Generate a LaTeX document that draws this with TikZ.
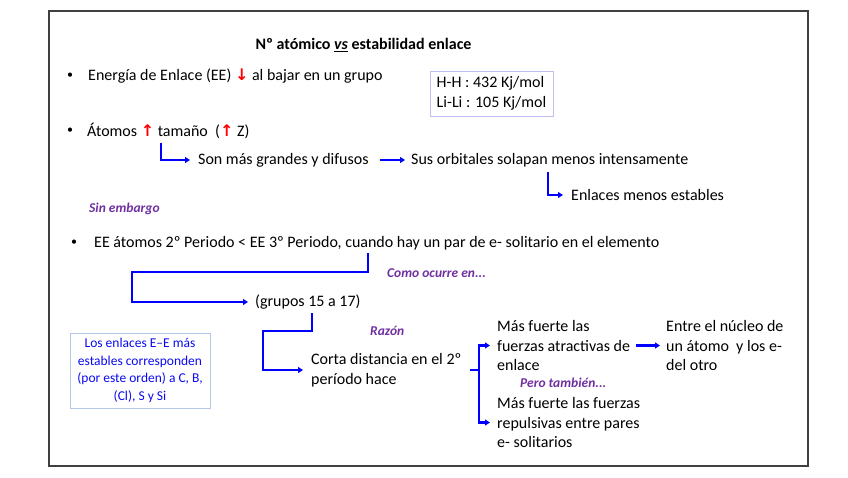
\documentclass[tikz,border=0pt]{standalone}
\usepackage{fontspec}
\setmainfont{Carlito}
\newfontfamily\symf{DejaVu Sans}
\usetikzlibrary{arrows.meta}
\definecolor{arrblue}{RGB}{0,0,255}
\definecolor{lblpurple}{RGB}{112,48,160}
\definecolor{boxblue}{RGB}{180,199,231}
\definecolor{lavbox}{RGB}{190,190,240}
\definecolor{framegray}{RGB}{64,64,64}
\definecolor{boxtext}{RGB}{10,10,240}
\newcommand{\redup}{{\color{red}\symf\bfseries ↑}}
\newcommand{\reddown}{{\color{red}\symf\bfseries ↓}}
\tikzset{
  txt/.style={inner sep=0pt, anchor=west, font=\fontsize{16}{19.5}\selectfont, align=left},
  lbl/.style={inner sep=0pt, anchor=west, font=\fontsize{13.5}{16}\selectfont\bfseries\itshape, text=lblpurple},
  conn/.style={draw=arrblue, line width=2.2pt},
  arr/.style={conn, -{Triangle[length=5pt,width=6pt]}},
  bul/.style={inner sep=0pt, font=\fontsize{12}{14}\selectfont}
}
\begin{document}
\begin{tikzpicture}[x=1pt,y=-1pt]
\useasboundingbox (0,0) rectangle (848,477);
\draw[framegray, line width=1.5pt] (49,11) rectangle (808,466);

\node[font=\fontsize{16}{19.5}\selectfont\bfseries, inner sep=0pt] (title) at (363.5,45) {Nº atómico \underline{\textit{vs}} estabilidad enlace};

\node[bul] (b1) at (70,76) {•};
\node[txt] (ee) at (88,76) {Energía de Enlace (EE) \reddown{} al bajar en un grupo};
\node[draw=lavbox, line width=1pt, minimum width=123, minimum height=45, align=left, inner sep=0pt, font=\fontsize{16}{19.5}\selectfont] (hh) at (491.5,93.5) {H-H : 432 Kj/mol\\Li-Li : 105 Kj/mol};

\node[bul] (b2) at (70,131) {•};
\node[txt] (at) at (87,131) {Átomos \redup{} tamaño~~(\redup{} Z)};
\coordinate (c1) at (161,143);
\node[txt] (son) at (198,160) {Son más grandes y difusos};
\node[txt] (sus) at (411,160) {Sus orbitales solapan menos intensamente};
\coordinate (c2) at (548,172);
\node[txt] (enl) at (571,195) {Enlaces menos estables};

\node[lbl] (sin) at (89,209) {Sin embargo};

\node[bul] (b3) at (74,243) {•};
\node[txt] (ee2) at (94,243) {EE átomos 2º Periodo < EE 3º Periodo, cuando hay un par de e- solitario en el elemento};
\coordinate (c3) at (368,253);
\coordinate (k1) at (132,272);
\node[lbl] (como) at (387,273) {Como ocurre en...};
\node[txt] (grp) at (255,302) {(grupos 15 a 17)};
\coordinate (c4) at (312,313);
\coordinate (k2) at (263,331);
\node[lbl] (raz) at (370,331) {Razón};
\node[txt] (corta) at (311,370) {Corta distancia en el 2º\\período hace};
\coordinate (br) at (479,370);
\node[txt] (mas1) at (497,345.5) {Más fuerte las\\fuerzas atractivas de\\enlace};
\node[lbl] (pero) at (520,383) {Pero también...};
\node[txt] (mas2) at (497,422.5) {Más fuerte las fuerzas\\repulsivas entre pares\\e- solitarios};
\node[txt] (entre) at (666,345.5) {Entre el núcleo de\\un átomo~ y los e-\\del otro};

\node[draw=boxblue, line width=1pt, minimum width=140, minimum height=75, align=center, inner sep=0pt, text=boxtext, font=\fontsize{13.5}{17.7}\selectfont] (eb) at (140,370.5) {Los enlaces E–E más\\estables corresponden\\(por este orden) a C, B,\\(Cl), S y Si};

\draw[arr] (c1) |- ([xshift=-8]son.west);
\draw[arr] ([xshift=11]son.east) -- ([xshift=-6]sus.west);
\draw[arr] (c2) |- ([xshift=-8]enl.west);
\draw[arr] (c3) |- (k1) |- ([xshift=-7]grp.west);
\draw[arr] (c4) |- (k2) |- ([xshift=-8]corta.west);
\draw[conn] ([xshift=8]corta.east) -- (br);
\draw[arr] (br) |- ([xshift=-7]mas1.west);
\draw[arr] (br) |- ([xshift=-7]mas2.west);
\draw[arr] ([xshift=6]mas1.east) -- ([xshift=-6]entre.west);
\end{tikzpicture}
\end{document}
